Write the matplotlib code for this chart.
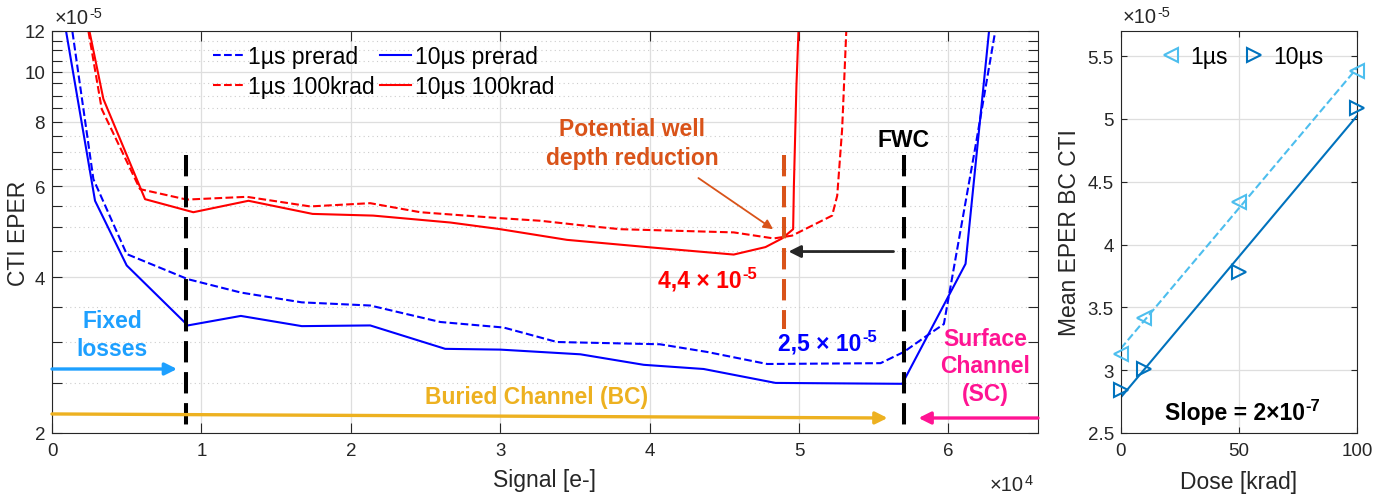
import matplotlib

matplotlib.use("Agg")
import matplotlib.pyplot as plt
import numpy as np
from matplotlib.ticker import FixedLocator, NullFormatter

plt.rcParams["font.family"] = ["Liberation Sans", "DejaVu Sans"]

# ---- left panel: CTI (EPER) vs signal, CTI in units of 1e-5 ----
sig_pre_1us = [0, 2770, 5000, 9090, 12640, 16720, 21300, 25990, 30230, 33800, 40690,
               43850, 47870, 55460, 57020, 58590, 59700, 61820, 63500]
cti_pre_1us = [22.7, 6.20, 4.44, 3.97, 3.74, 3.58, 3.53, 3.28, 3.20, 3.00, 2.97,
               2.87, 2.72, 2.73, 2.87, 3.09, 3.25, 7.19, 13.8]

sig_pre_10us = [0, 2880, 5000, 9090, 12640, 16720, 21300, 26320, 30010, 35370, 39610,
                43620, 48430, 56910, 61150, 63160]
cti_pre_10us = [17.3, 5.63, 4.22, 3.23, 3.37, 3.22, 3.23, 2.91, 2.90, 2.84, 2.71,
                2.66, 2.50, 2.49, 4.25, 16.0]

sig_rad_1us = [0, 3330, 5890, 9020, 13040, 17280, 21300, 24650, 30010, 32690, 35370,
               38040, 45630, 48310, 49540, 52220, 52560, 52890, 53310]
cti_rad_1us = [31.0, 8.47, 5.93, 5.66, 5.73, 5.49, 5.57, 5.35, 5.21, 5.15, 5.05,
               4.96, 4.89, 4.76, 4.82, 5.27, 5.76, 7.75, 15.0]

sig_rad_10us = [0, 3440, 6230, 9460, 13150, 17440, 21500, 26660, 30010, 34470, 39830,
                45630, 47760, 48870, 49610, 49660, 49830, 50100]
cti_rad_10us = [27.0, 8.86, 5.67, 5.35, 5.63, 5.31, 5.27, 5.11, 4.96, 4.73, 4.58,
                4.43, 4.58, 4.76, 4.96, 6.02, 9.40, 15.1]

fixed_losses_edge = 9000
fwc = 57000
reduced_well = 49000

left_yticks = [2, 4, 6, 8, 10, 12]
left_yminor = [2.5, 3, 3.5, 4.5, 5, 5.5, 6.5, 7, 7.5, 8.5, 9, 9.5, 10.5, 11, 11.5]
left_xticks = [0, 1, 2, 3, 4, 5, 6]

# ---- right panel: mean BC CTI vs dose ----
dose = [0, 10, 50, 100]
mean_cti_1us = [3.125, 3.418, 4.342, 5.38]
mean_cti_10us = [2.846, 3.006, 3.778, 5.09]
right_yticks = [2.5, 3, 3.5, 4, 4.5, 5, 5.5]
right_xticks = [0, 50, 100]

INK = "#262626"
ORANGE = "#D95319"
LIGHT = "#4DBEEE"
DARK = "#0072BD"

e5 = 1e-5
fig = plt.figure(figsize=(13.96, 5.02), dpi=100)
axis = fig.add_axes([0.03725, 0.1355, 0.7063, 0.8008])
side = fig.add_axes([0.8028, 0.1355, 0.1695, 0.8008])


def sci(ax, x, y, base, exponent, size, color, weight="normal", transform=None, va="center", rise=1.5):
    main = ax.text(x, y, base, fontsize=size, color=color, fontweight=weight, ha="left", va=va,
                   transform=transform if transform is not None else ax.transData)
    ax.annotate(exponent, xy=(1, 1), xycoords=main, xytext=(0.5, rise), textcoords="offset points",
                fontsize=size * 0.72, color=color, fontweight=weight, ha="left", va="top")


# left panel curves
h1, = axis.plot(sig_pre_1us, np.array(cti_pre_1us) * e5, "--", color="blue", lw=1.5, label="1µs prerad")
h2, = axis.plot(sig_pre_10us, np.array(cti_pre_10us) * e5, "-", color="blue", lw=1.5, label="10µs prerad")
h3, = axis.plot(sig_rad_1us, np.array(cti_rad_1us) * e5, "--", color="red", lw=1.5, label="1µs 100krad")
h4, = axis.plot(sig_rad_10us, np.array(cti_rad_10us) * e5, "-", color="red", lw=1.5, label="10µs 100krad")

axis.set_yscale("log")
axis.set_xlim(0, 66000)
axis.set_ylim(2 * e5, 12 * e5)
axis.yaxis.set_major_locator(FixedLocator([v * e5 for v in left_yticks]))
axis.yaxis.set_minor_locator(FixedLocator([v * e5 for v in left_yminor]))
axis.set_yticklabels([str(v) for v in left_yticks])
axis.yaxis.set_minor_formatter(NullFormatter())
axis.set_xticks([v * 1e4 for v in left_xticks])
axis.set_xticklabels([str(v) for v in left_xticks])
axis.grid(True, which="major", color="#DEDEDE", lw=0.9)
axis.grid(True, which="minor", axis="y", color="#CCCCCC", lw=0.8, linestyle=(0, (1, 3)))
axis.set_axisbelow(True)
axis.tick_params(which="both", direction="in", top=True, right=True, length=7, width=0.8,
                 colors=INK, labelsize=13.5)
axis.tick_params(axis="y", pad=5)
axis.tick_params(axis="x", pad=6.5)
for spine in axis.spines.values():
    spine.set_color(INK)
    spine.set_linewidth(0.8)

axis.set_xlabel("Signal [e-]", fontsize=16.5, color=INK)
axis.set_ylabel("CTI EPER", fontsize=16.5, color=INK)
axis.xaxis.set_label_coords(0.5, -0.087)
axis.yaxis.set_label_coords(-0.022, 0.5)
sci(axis, 0.003, 1.058, "×10", "-5", 14.5, INK, transform=axis.transAxes, va="top")
sci(axis, 0.951, -0.104, "×10", "4", 14.5, INK, transform=axis.transAxes, va="top")

axis.legend(handles=[h1, h3, h2, h4], ncol=2, frameon=False, loc="upper left",
            bbox_to_anchor=(0.163, 0.966), borderpad=0, borderaxespad=0, fontsize=16.5,
            handlelength=1.35, handletextpad=0.18, columnspacing=0.25, labelspacing=0.32)

# vertical markers (drawn top-down so the dash pattern starts at the top)
dash = (5.3, 2.4)
axis.plot([fixed_losses_edge] * 2, [6.9 * e5, 2.0 * e5], color="black", lw=2.9, linestyle=(0, dash))
axis.plot([fwc] * 2, [6.9 * e5, 2.0 * e5], color="black", lw=2.9, linestyle=(0, dash))
axis.plot([reduced_well] * 2, [6.9 * e5, 3.18 * e5], color=ORANGE, lw=2.9, linestyle=(0, dash))

bold = dict(fontsize=16.5, fontweight="bold", ha="center", va="center")
axis.text(fwc, 7.41 * e5, "FWC", color="black", **bold)
axis.text(38850, 7.28 * e5, "Potential well\ndepth reduction", color=ORANGE, linespacing=1.3, **bold)
axis.text(4020, 3.10 * e5, "Fixed\nlosses", color="#1EA0FF", linespacing=1.25, **bold)
axis.text(32420, 2.35 * e5, "Buried Channel (BC)", color="#EDB120", **bold)
axis.text(62490, 2.70 * e5, "Surface\nChannel\n(SC)", color="#FF1493", linespacing=1.25, **bold)
sci(axis, 40590, 3.96 * e5, "4,4 × 10", "-5", 16.5, "red", weight="bold")
sci(axis, 48630, 2.99 * e5, "2,5 × 10", "-5", 16.5, "blue", weight="bold")


def arrow(start, end, color, lw, scale):
    axis.annotate("", xy=end, xytext=start,
                  arrowprops=dict(arrowstyle="-|>", color=color, lw=lw, mutation_scale=scale,
                                  shrinkA=0, shrinkB=0))


arrow((43270, 6.23 * e5), (48270, 4.96 * e5), ORANGE, 1.3, 14)
arrow((56330, 4.49 * e5), (49300, 4.49 * e5), INK, 2.0, 18)
arrow((0, 2.66 * e5), (8370, 2.66 * e5), "#1EA0FF", 2.4, 18)
arrow((0, 2.177 * e5), (55930, 2.138 * e5), "#EDB120", 2.4, 18)
arrow((66000, 2.138 * e5), (58000, 2.138 * e5), "#FF1493", 2.4, 18)

# right panel
m1, = side.plot(dose, np.array(mean_cti_1us) * e5, "<", ms=10, mfc="none", mec=LIGHT, mew=1.5,
                linestyle="none", clip_on=False, label="1µs", zorder=3)
m2, = side.plot(dose, np.array(mean_cti_10us) * e5, ">", ms=10, mfc="none", mec=DARK, mew=1.5,
                linestyle="none", clip_on=False, label="10µs", zorder=3)
fit_x = np.array([0, 100])
for values, color, style in ((mean_cti_1us, LIGHT, "--"), (mean_cti_10us, DARK, "-")):
    slope, offset = np.polyfit(dose, values, 1)
    side.plot(fit_x, (slope * fit_x + offset) * e5, style, color=color, lw=1.5)

side.set_xlim(0, 100)
side.set_ylim(2.5 * e5, 5.7 * e5)
side.set_yticks([v * e5 for v in right_yticks])
side.set_yticklabels([f"{v:g}" for v in right_yticks])
side.set_xticks(right_xticks)
side.set_xticklabels([str(v) for v in right_xticks])
side.grid(True, color="#DEDEDE", lw=0.9)
side.set_axisbelow(True)
side.tick_params(direction="in", top=True, right=True, length=4, width=0.8, colors=INK, labelsize=13.5)
side.tick_params(axis="y", pad=5)
side.tick_params(axis="x", pad=6.5)
for spine in side.spines.values():
    spine.set_color(INK)
    spine.set_linewidth(0.8)
side.set_xlabel("Dose [krad]", fontsize=16.5, color=INK)
side.set_ylabel("Mean EPER BC CTI", fontsize=16.5, color=INK)
side.xaxis.set_label_coords(0.5, -0.093)
side.yaxis.set_label_coords(-0.168, 0.5)
sci(side, 0.01, 1.059, "×10", "-5", 14.5, INK, transform=side.transAxes, va="top")
sci(side, 0.187, 0.052, "Slope = 2×10", "-7", 16.5, "black", weight="bold", transform=side.transAxes)
side.legend(handles=[m1, m2], ncol=2, frameon=False, loc="upper center",
            bbox_to_anchor=(0.513, 0.966), borderpad=0, borderaxespad=0, fontsize=16.5,
            handlelength=0.9, handletextpad=0.4, columnspacing=0.7)

fig.savefig("out.png", dpi=100)
plt.close(fig)
